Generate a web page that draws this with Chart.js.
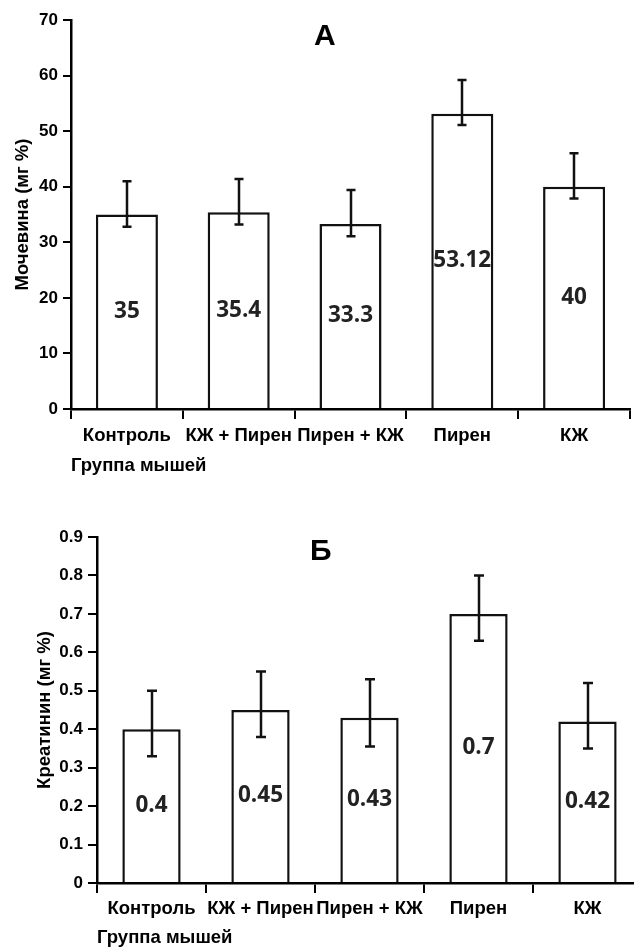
<!DOCTYPE html>
<html>
<head>
<meta charset="utf-8">
<script src="https://cdn.jsdelivr.net/npm/chart.js@4.4.1/dist/chart.umd.min.js"></script>
<style>
  html, body { margin: 0; padding: 0; background: #fff; overflow: hidden; }
  #wrap { position: relative; width: 634px; height: 948px; overflow: hidden; }
  canvas { position: absolute; left: 0; }
  #chartA { top: 0; }
  #chartB { top: 490px; }
  .panel { position: absolute; font: bold 30px "Liberation Sans", Arial, sans-serif; color: #000; line-height: 1; }
</style>
</head>
<body>
<div id="wrap">
  <canvas id="chartA" width="634" height="482"></canvas>
  <canvas id="chartB" width="650" height="460"></canvas>
  <div class="panel" style="left:314px;top:20px">А</div>
  <div class="panel" style="left:310px;top:535px">Б</div>
</div>
<script>
const groups = ['Контроль', 'КЖ + Пирен', 'Пирен + КЖ', 'Пирен', 'КЖ'];
const xTitle = 'Группа мышей';

// А: urea
const ureaValues = [35, 35.4, 33.3, 53.12, 40];
const ureaErrHigh = [41, 41.4, 39.4, 59.2, 46];
const ureaErrLow = [32.8, 33.2, 31.1, 51.1, 37.9];
const ureaTicks = [0, 10, 20, 30, 40, 50, 60, 70];

// Б: creatinine
const creatValues = [0.4, 0.45, 0.43, 0.7, 0.42];
const creatErrHigh = [0.5, 0.55, 0.53, 0.8, 0.52];
const creatErrLow = [0.33, 0.38, 0.355, 0.63, 0.35];
const creatTicks = [0, 0.1, 0.2, 0.3, 0.4, 0.5, 0.6, 0.7, 0.8, 0.9];

const AXIS_FONT = '"Liberation Sans", Arial, sans-serif';

// error bars + value text in the middle of each bar
function overlay(high, low, cap) {
  return {
    id: 'overlay',
    afterDatasetsDraw(chart) {
      const ctx = chart.ctx;
      const y = chart.scales.y;
      const meta = chart.getDatasetMeta(0);
      const data = chart.data.datasets[0].data;
      ctx.save();
      ctx.strokeStyle = '#111';
      ctx.lineWidth = 2.5;
      meta.data.forEach((bar, i) => {
        const x = Math.round(bar.x);
        const t = y.getPixelForValue(high[i]);
        const b = y.getPixelForValue(low[i]);
        ctx.beginPath();
        ctx.moveTo(x, t); ctx.lineTo(x, b);
        ctx.moveTo(x - cap, t); ctx.lineTo(x + cap, t);
        ctx.moveTo(x - cap, b); ctx.lineTo(x + cap, b);
        ctx.stroke();
      });
      ctx.fillStyle = '#222';
      ctx.font = 'bold 22.5px "Open Sans", sans-serif';
      ctx.textAlign = 'center';
      ctx.textBaseline = 'middle';
      meta.data.forEach((bar, i) => {
        ctx.fillText(String(data[i]), bar.x, (bar.y + bar.base) / 2);
      });
      ctx.restore();
    }
  };
}

function makeChart(id, p) {
  const font = size => ({ family: AXIS_FONT, size: size, weight: 'bold' });
  return new Chart(document.getElementById(id), {
    type: 'bar',
    data: {
      labels: groups,
      datasets: [{
        data: p.values,
        backgroundColor: '#fff',
        borderColor: '#111',
        borderWidth: 2.5,
        categoryPercentage: 1,
        barPercentage: p.barPct
      }]
    },
    options: {
      responsive: false,
      animation: false,
      devicePixelRatio: 1,
      layout: { padding: { top: p.padTop, right: p.padRight, left: 0, bottom: 0 } },
      plugins: { legend: { display: false }, tooltip: { enabled: false } },
      scales: {
        x: {
          offset: true,
          grid: { offset: true, drawOnChartArea: false, tickLength: 10, color: '#000', lineWidth: 2 },
          border: { display: true, color: '#000', width: 2.5 },
          ticks: { color: '#000', font: font(18.5), padding: p.xPad, maxRotation: 0, autoSkip: false },
          title: { display: true, text: xTitle, align: 'start', color: '#000', font: font(18.5), padding: { top: 0, bottom: p.xTitlePad } },
          afterFit: s => { s.height = p.xHeight; }
        },
        y: {
          min: 0,
          max: p.ticks[p.ticks.length - 1],
          afterBuildTicks: s => { s.ticks = p.ticks.map(v => ({ value: v })); },
          grid: { drawOnChartArea: false, tickLength: p.yTick, color: '#000', lineWidth: 2 },
          border: { display: true, color: '#000', width: 2.5 },
          ticks: { color: '#000', font: font(17), padding: 5 },
          title: { display: true, text: p.yTitle, color: '#000', font: font(18.5), padding: { top: p.yTitlePad, bottom: 0 } },
          afterFit: s => { s.width = p.yWidth; }
        }
      }
    },
    plugins: [overlay(p.high, p.low, p.cap)]
  });
}

makeChart('chartA', {
  values: ureaValues, high: ureaErrHigh, low: ureaErrLow, ticks: ureaTicks,
  yTitle: 'Мочевина (мг %)', barPct: 0.555, cap: 4.5,
  padTop: 20, padRight: 4, xHeight: 73, xPad: 6, xTitlePad: 4.5,
  yWidth: 71, yTick: 8, yTitlePad: 11.5
});

makeChart('chartB', {
  values: creatValues, high: creatErrHigh, low: creatErrLow, ticks: creatTicks,
  yTitle: 'Креатинин (мг %)', barPct: 0.535, cap: 5,
  padTop: 47, padRight: 8, xHeight: 67, xPad: 4.5, xTitlePad: 0.5,
  yWidth: 97, yTick: 9, yTitlePad: 34
});
</script>
</body>
</html>
